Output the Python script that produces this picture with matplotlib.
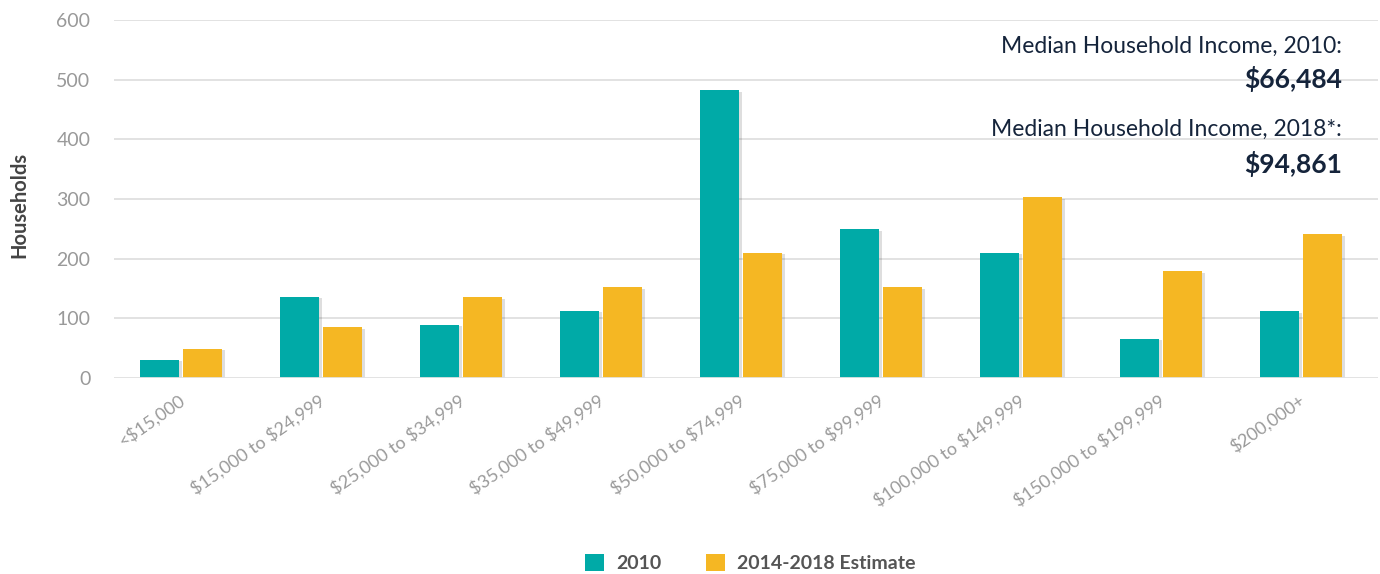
import numpy as np
import matplotlib
matplotlib.use('Agg')
import matplotlib.pyplot as plt
import matplotlib.patheffects as pe
import matplotlib.transforms as mtransforms
from matplotlib.patches import Patch

categories = ['<$15,000', '$15,000 to $24,999', '$25,000 to $34,999', '$35,000 to $49,999',
              '$50,000 to $74,999', '$75,000 to $99,999', '$100,000 to $149,999',
              '$150,000 to $199,999', '$200,000+']
hh_2010 = [31, 136, 89, 113, 482, 249, 210, 66, 112]
hh_2018 = [49, 85, 135, 152, 210, 152, 303, 179, 241]
yticks = [0, 100, 200, 300, 400, 500, 600]

teal = '#00aaa7'
gold = '#f5b723'
navy = '#15243b'

plt.rcParams['font.family'] = ['Lato', 'DejaVu Sans']
plt.rcParams['text.parse_math'] = False

fig = plt.figure(figsize=(13.8, 5.74), dpi=100)
ax = fig.add_axes([114/1380, 1-378/574, 1264/1380, 358/574])

x = np.arange(len(categories))
w = 0.279
off = 0.154
shadow = [pe.SimplePatchShadow(offset=(2, -1), alpha=0.16, shadow_rgbFace='#333333'), pe.Normal()]

b1 = ax.bar(x - off, hh_2010, width=w, color=teal, zorder=3)
b2 = ax.bar(x + off, hh_2018, width=w, color=gold, zorder=3)
for b in list(b1) + list(b2):
    b.set_path_effects(shadow)

ax.set_xlim(-0.479, 8.55)
ax.set_ylim(0, 600)
ax.set_yticks(yticks)
ax.set_yticklabels([str(t) for t in yticks], fontsize=14, color='#999999')
ax.grid(axis='y', color='#dddddd', linewidth=1.2, zorder=0)
ax.axhline(0, color='#e4e4e4', linewidth=2, zorder=4)
for s in ax.spines.values():
    s.set_visible(False)
ax.tick_params(axis='both', length=0)
ax.tick_params(axis='y', pad=17)

ax.set_xticks(x)
ax.set_xticklabels(categories, rotation=35, ha='right', rotation_mode='anchor',
                   fontsize=13, color='#9a9a9a')
shift = mtransforms.ScaledTranslation(-3/100, -9/100, fig.dpi_scale_trans)
for lab in ax.get_xticklabels():
    lab.set_transform(lab.get_transform() + shift)

fig.text(19/1380, 1-205/574, 'Households', rotation=90, ha='center', va='center',
         fontsize=14.5, fontweight='bold', color='#444444')

# median income notes
fig.text(1342/1380, 1-53/574, 'Median Household Income, 2010:', ha='right', va='baseline',
         fontsize=16.5, color=navy)
fig.text(1342/1380, 1-88/574, '$66,484', ha='right', va='baseline',
         fontsize=19, fontweight='bold', color=navy)
fig.text(1342/1380, 1-136/574, 'Median Household Income, 2018*:', ha='right', va='baseline',
         fontsize=16.5, color=navy)
fig.text(1342/1380, 1-173/574, '$94,861', ha='right', va='baseline',
         fontsize=19, fontweight='bold', color=navy)

handles = [Patch(facecolor=teal, label='2010'), Patch(facecolor=gold, label='2014-2018 Estimate')]
leg = fig.legend(handles=handles, loc='center', bbox_to_anchor=(750/1380, 1-563/574),
                 ncol=2, frameon=False, fontsize=14, handlelength=1.0, handleheight=1.0,
                 handletextpad=0.6, columnspacing=2.3)
for t in leg.get_texts():
    t.set_color('#555555')
    t.set_fontweight('bold')

plt.savefig('out.png', dpi=100)
